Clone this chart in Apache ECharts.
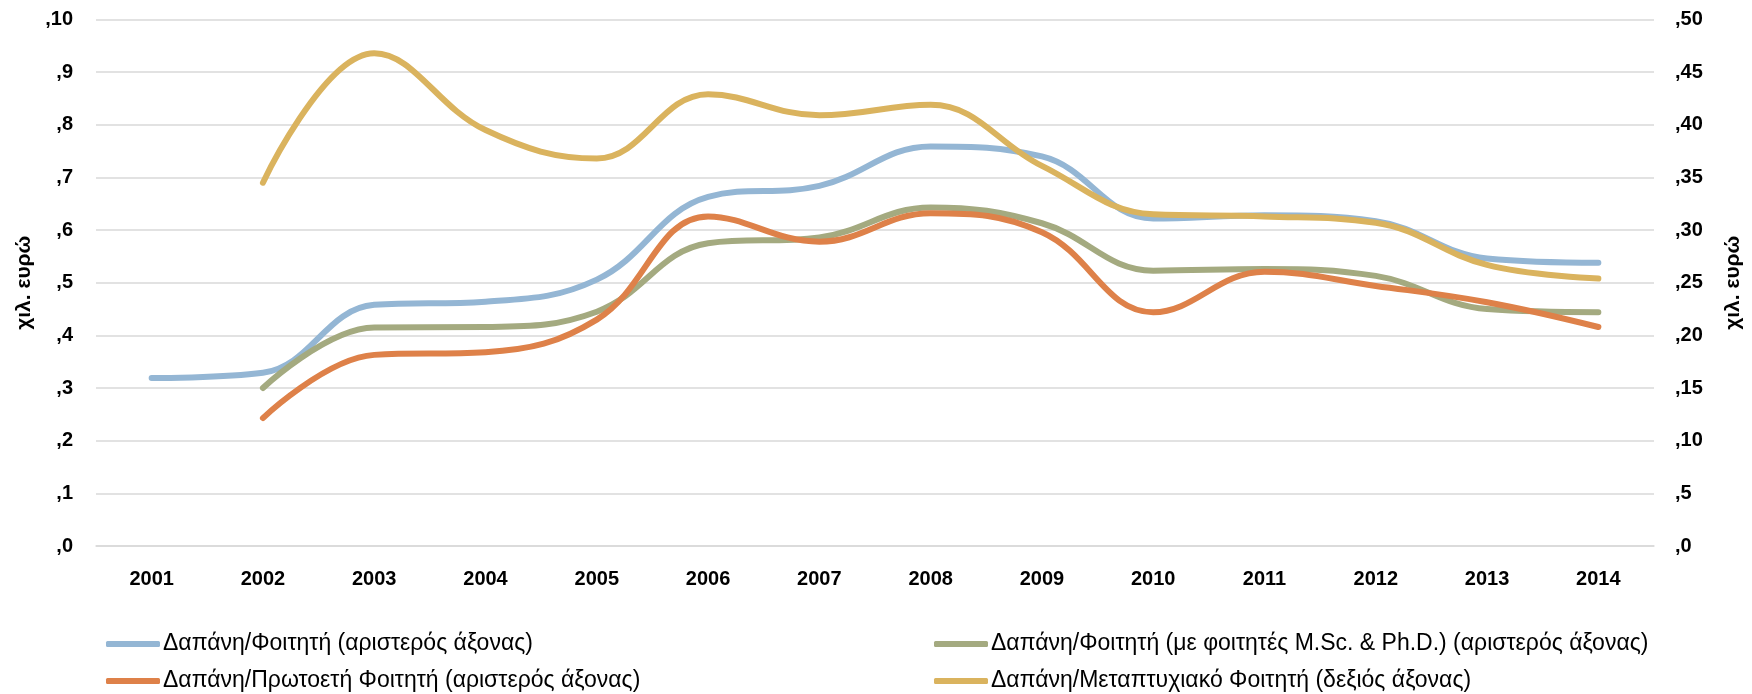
<!DOCTYPE html>
<html>
<head>
<meta charset="utf-8">
<script src="https://cdn.jsdelivr.net/npm/echarts@6/dist/echarts.min.js"></script>
<style>
  html, body { margin: 0; padding: 0; background: #fff; }
  #chart { width: 1752px; height: 694px; }
</style>
</head>
<body>
<div id="chart"></div>
<script>
// years on the x axis
const years = ['2001', '2002', '2003', '2004', '2005', '2006', '2007', '2008', '2009', '2010', '2011', '2012', '2013', '2014'];

// left axis, thousand euros
const perStudent = [3.19, 3.29, 4.58, 4.64, 5.06, 6.63, 6.84, 7.59, 7.40, 6.22, 6.28, 6.17, 5.46, 5.38];
const perStudentPg = [null, 3.00, 4.15, 4.16, 4.45, 5.75, 5.86, 6.43, 6.13, 5.23, 5.26, 5.13, 4.50, 4.44];
const perUndergrad = [null, 2.43, 3.63, 3.68, 4.30, 6.26, 5.78, 6.32, 5.96, 4.44, 5.21, 4.94, 4.63, 4.16];
// right axis
const perPostgrad = [null, 34.5, 46.8, 39.5, 36.8, 42.9, 40.9, 41.9, 36.1, 31.5, 31.3, 30.7, 26.7, 25.4];

const names = [
    'Δαπάνη/Φοιτητή (αριστερός άξονας)',
    'Δαπάνη/Φοιτητή (με φοιτητές M.Sc. & Ph.D.) (αριστερός άξονας)',
    'Δαπάνη/Πρωτοετή Φοιτητή (αριστερός άξονας)',
    'Δαπάνη/Μεταπτυχιακό Φοιτητή (δεξιός άξονας)'
];
const colors = ['#94B6D4', '#A4AA80', '#DE8149', '#DAB35E'];

const font = 'Liberation Sans';
const axisText = {fontFamily: font, fontSize: 20, fontWeight: 'bold', color: '#000'};
const nameText = {fontFamily: font, fontSize: 21, fontWeight: 'bold', color: '#000'};

const myChart = echarts.init(document.getElementById('chart'));

function lineSeries(i, data, axis) {
    return {
        name: names[i],
        type: 'line',
        yAxisIndex: axis,
        data: data,
        smooth: 0.4,
        showSymbol: false,
        symbol: 'none',
        connectNulls: false,
        lineStyle: {width: 6, color: colors[i], cap: 'round', join: 'round'},
        itemStyle: {color: colors[i]}
    };
}

// one legend block per entry, placed like the 2x2 legend of the original
function legendItem(i, left, top) {
    return {
        left: left, top: top,
        itemWidth: 54, itemHeight: 6, itemGap: 0, icon: 'roundRect',
        textStyle: {fontFamily: font, fontSize: 23, color: '#000', lineHeight: 24, padding: [0, 0, 0, -2]},
        data: [names[i]]
    };
}

const option = {
    animation: false,
    grid: {left: 96, right: 97, top: 19.5, bottom: 148},
    legend: [
        legendItem(0, 101, 627),
        legendItem(1, 929, 627),
        legendItem(2, 101, 664),
        legendItem(3, 929, 664)
    ],
    xAxis: {
        type: 'category',
        data: years,
        boundaryGap: true,
        axisTick: {show: false},
        axisLine: {lineStyle: {color: '#D9D9D9', width: 1.5}},
        axisLabel: Object.assign({margin: 23}, axisText)
    },
    yAxis: [
        {
            type: 'value', min: 0, max: 10, interval: 1,
            name: 'χιλ. ευρώ', nameLocation: 'middle', nameGap: 61, nameRotate: 90,
            nameTextStyle: nameText,
            axisLine: {show: false}, axisTick: {show: false},
            axisLabel: Object.assign({margin: 23, formatter: v => ',' + v}, axisText),
            splitLine: {lineStyle: {color: '#D9D9D9', width: 1.5}}
        },
        {
            type: 'value', min: 0, max: 50, interval: 5, position: 'right',
            name: 'χιλ. ευρώ', nameLocation: 'middle', nameGap: 69, nameRotate: 90,
            nameTextStyle: nameText,
            axisLine: {show: false}, axisTick: {show: false},
            axisLabel: Object.assign({margin: 21, formatter: v => ',' + v}, axisText),
            splitLine: {show: false}
        }
    ],
    series: [
        lineSeries(0, perStudent, 0),
        lineSeries(1, perStudentPg, 0),
        lineSeries(2, perUndergrad, 0),
        lineSeries(3, perPostgrad, 1)
    ]
};

myChart.setOption(option);
window.addEventListener('resize', myChart.resize, false);
</script>
</body>
</html>
